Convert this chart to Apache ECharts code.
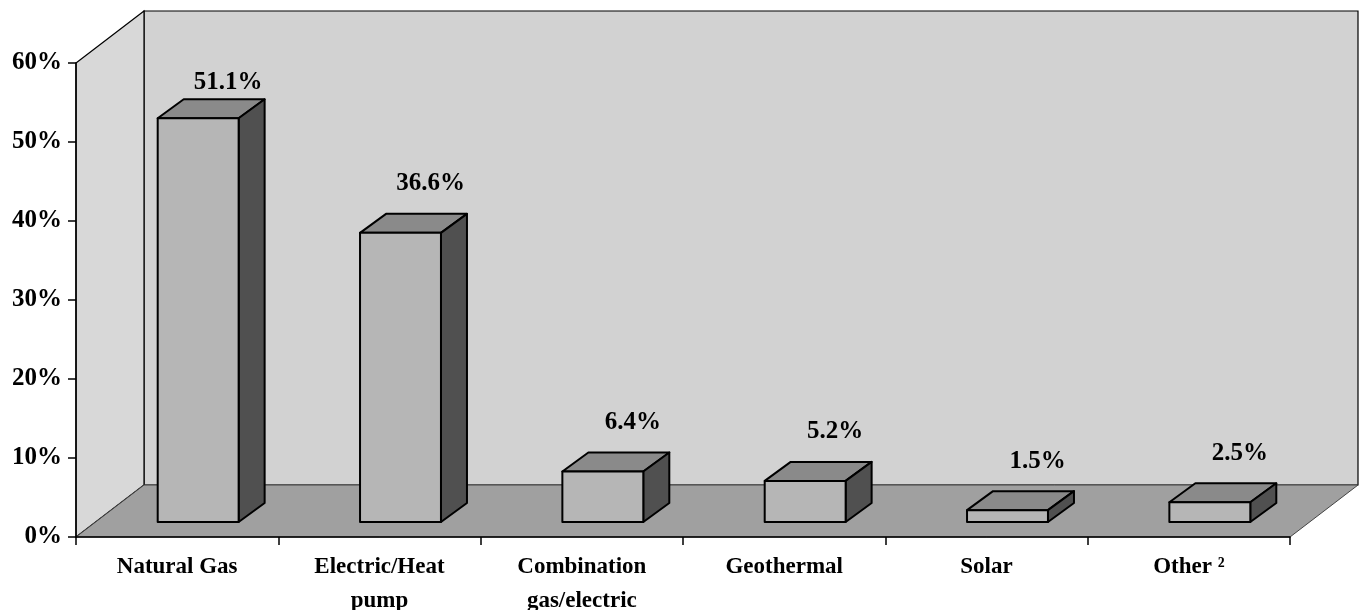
<!DOCTYPE html>
<html>
<head>
<meta charset="utf-8">
<script src="https://cdn.jsdelivr.net/npm/echarts@6/dist/echarts.min.js"></script>
<style>
    html, body { margin: 0; padding: 0; background: #fff; }
    #chart { width: 1363px; height: 610px; }
</style>
</head>
<body>
<div id="chart"></div>
<script>
var categories = ['Natural Gas', 'Electric/Heat\npump', 'Combination\ngas/electric', 'Geothermal', 'Solar', 'Other \u00b2'];
var shares = [51.1, 36.6, 6.4, 5.2, 1.5, 2.5];
var shareLabels = ['51.1%', '36.6%', '6.4%', '5.2%', '1.5%', '2.5%'];
var yTicks = [0, 10, 20, 30, 40, 50, 60];

var FONT = '"Liberation Serif", "Times New Roman", serif';
// depth of the whole box and of the bars (pixels)
var WALL_DX = 68, WALL_DY = -52;
var BAR_OFF_X = 21, BAR_OFF_Y = -15;
var BAR_DX = 26, BAR_DY = -19;

var renderWalls = function (params, api) {
    var cs = params.coordSys;
    var x0 = cs.x, x1 = cs.x + cs.width, y0 = cs.y, y1 = cs.y + cs.height;
    var line = { stroke: '#000', lineWidth: 1.2 };
    return {
        type: 'group',
        children: [
            {   // back wall
                type: 'polygon',
                shape: { points: [[x0 + WALL_DX, y0 + WALL_DY], [x1 + WALL_DX, y0 + WALL_DY], [x1 + WALL_DX, y1 + WALL_DY], [x0 + WALL_DX, y1 + WALL_DY]] },
                style: Object.assign({ fill: '#d2d2d2' }, line)
            },
            {   // left wall
                type: 'polygon',
                shape: { points: [[x0, y0], [x0 + WALL_DX, y0 + WALL_DY], [x0 + WALL_DX, y1 + WALL_DY], [x0, y1]] },
                style: Object.assign({ fill: '#d8d8d8' }, line)
            },
            {   // floor
                type: 'polygon',
                shape: { points: [[x0, y1], [x0 + WALL_DX, y1 + WALL_DY], [x1 + WALL_DX, y1 + WALL_DY], [x1, y1]] },
                style: { fill: '#a0a0a0', stroke: '#444', lineWidth: 1 }
            }
        ]
    };
};

var renderBox = function (params, api) {
    var idx = api.value(0);
    var val = api.value(1);
    var base = api.coord([idx, 0]);
    var top = api.coord([idx, val]);
    var halfW = api.size([1, 0])[0] * 0.2;
    var lx = base[0] + BAR_OFF_X - halfW, rx = base[0] + BAR_OFF_X + halfW;
    var by = base[1] + BAR_OFF_Y, ty = top[1] + BAR_OFF_Y;
    var stroke = { stroke: '#000', lineWidth: 2, lineJoin: 'round' };
    var labelY = Math.max(ty + BAR_DY - 30, params.coordSys.y + 20);
    return {
        type: 'group',
        children: [
            {
                type: 'polygon',
                shape: { points: [[lx, ty], [rx, ty], [rx + BAR_DX, ty + BAR_DY], [lx + BAR_DX, ty + BAR_DY]] },
                style: Object.assign({ fill: '#8a8a8a' }, stroke)
            },
            {
                type: 'polygon',
                shape: { points: [[rx, ty], [rx + BAR_DX, ty + BAR_DY], [rx + BAR_DX, by + BAR_DY], [rx, by]] },
                style: Object.assign({ fill: '#505050' }, stroke)
            },
            {
                type: 'rect',
                shape: { x: lx, y: ty, width: rx - lx, height: by - ty },
                style: Object.assign({ fill: '#b6b6b6' }, stroke)
            },
            {
                type: 'text',
                style: {
                    text: shareLabels[idx],
                    x: (lx + rx) / 2 + BAR_DX + 4,
                    y: labelY,
                    align: 'center',
                    verticalAlign: 'middle',
                    fill: '#000',
                    fontSize: 25,
                    fontWeight: 'bold',
                    fontFamily: FONT
                }
            }
        ]
    };
};

var myChart = echarts.init(document.getElementById('chart'));
var option = {
    backgroundColor: '#fff',
    animation: false,
    grid: { left: 76, right: 73, top: 63, bottom: 73, containLabel: false, outerBoundsMode: 'none' },
    xAxis: {
        type: 'category',
        data: categories,
        boundaryGap: true,
        axisLine: { lineStyle: { color: '#000', width: 1.5 } },
        axisTick: { show: true, length: 8, lineStyle: { color: '#000', width: 1.5 } },
        axisLabel: {
            color: '#000', fontSize: 23, fontWeight: 'bold', fontFamily: FONT,
            lineHeight: 34, margin: 13, interval: 0
        },
        z: 5
    },
    yAxis: {
        type: 'value',
        min: yTicks[0],
        max: yTicks[yTicks.length - 1],
        interval: 10,
        splitLine: { show: false },
        axisLine: { show: true, lineStyle: { color: '#000', width: 1.5 } },
        axisTick: { show: true, length: 8, lineStyle: { color: '#000', width: 1.5 } },
        axisLabel: {
            color: '#000', fontSize: 25, fontWeight: 'bold', fontFamily: FONT, margin: 14,
            formatter: function (v) { return v + '%'; }
        },
        z: 5
    },
    series: [
        {
            type: 'custom',
            renderItem: renderWalls,
            data: [[0, 0]],
            z: 1,
            silent: true
        },
        {
            type: 'custom',
            renderItem: renderBox,
            data: shares.map(function (v, i) { return [i, v]; }),
            z: 3
        }
    ]
};
myChart.setOption(option);
window.onresize = myChart.resize;
</script>
</body>
</html>
